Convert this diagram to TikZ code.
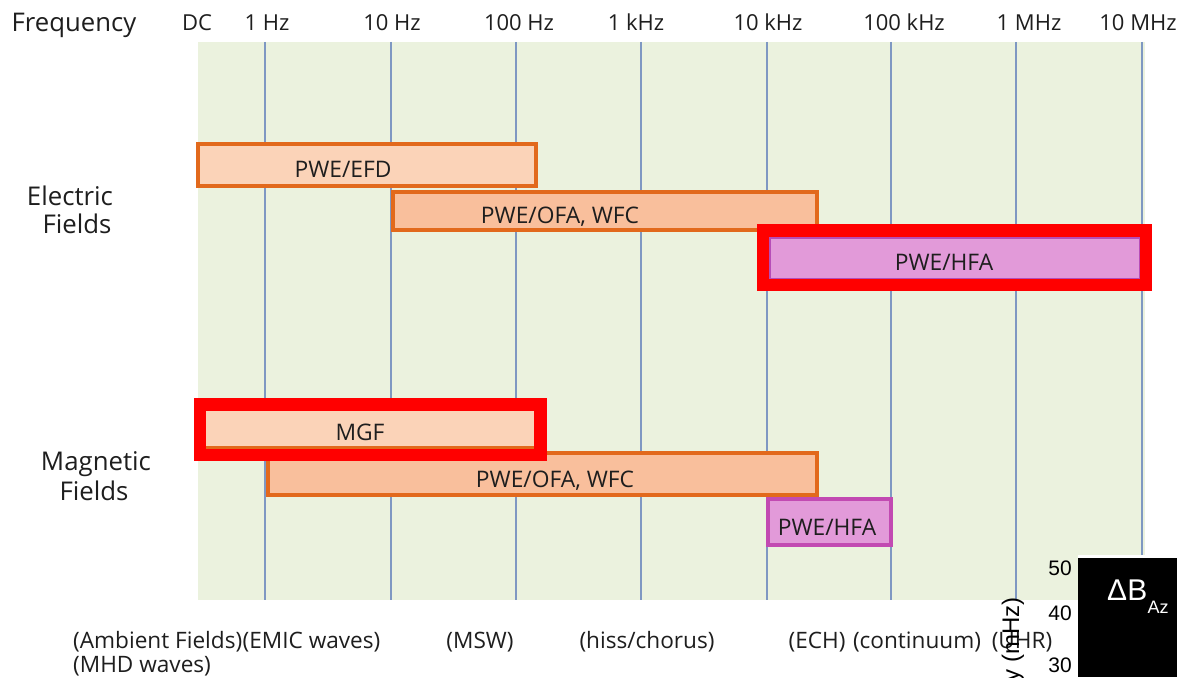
\documentclass[tikz,border=0pt]{standalone}
\usepackage{fontspec}
\setmainfont{Open Sans}
\newfontfamily\arialfont{Liberation Sans}
\definecolor{bggreen}{HTML}{EBF2DE}
\definecolor{gridc}{HTML}{7F98C2}
\definecolor{peachA}{HTML}{FBD3B8}
\definecolor{peachB}{HTML}{F9BF9C}
\definecolor{orangeB}{HTML}{E2691C}
\definecolor{magfill}{HTML}{E29AD9}
\definecolor{purpleB}{HTML}{B64DB8}
\definecolor{purpleC}{HTML}{C24AB2}
\definecolor{redc}{HTML}{FF0000}
\definecolor{txt}{HTML}{1E1E1E}
\begin{document}
\begin{tikzpicture}[x=1pt,y=-1pt,
  hdr/.style={inner sep=0pt, text=txt, anchor=base, font=\fontsize{22}{26}\selectfont},
  rowlab/.style={inner sep=0pt, text=txt, anchor=base, font=\fontsize{25.8}{30}\selectfont},
  barlab/.style={inner sep=0pt, text=txt, anchor=base, font=\fontsize{22.8}{27}\selectfont},
  botlab/.style={inner sep=0pt, text=txt, font=\fontsize{22.6}{27}\selectfont},
  gridline/.style={draw=gridc, line width=1.3pt},
  obar/.style={draw=orangeB, line width=4pt, inner sep=0pt, outer sep=0pt},
  mbar/.style={draw=purpleB, fill=magfill, line width=1.5pt, inner sep=0pt, outer sep=0pt},
  redbox/.style={draw=redc, line width=12.5pt, inner sep=0pt, outer sep=0pt},
  ovnum/.style={inner sep=0pt, text=black, anchor=base east, font=\arialfont\fontsize{21}{25}\selectfont}
]
\useasboundingbox (0,0) rectangle (1177,677);
\clip (0,0) rectangle (1177,677);
\fill[white] (0,0) rectangle (1177,677);
% background
\fill[bggreen] (198,42) rectangle (1145,600);
\foreach \x in {265,391,516,641,767,891,1016,1142}
  \draw[gridline] (\x,42) -- (\x,600);
% header
\node[hdr, font=\fontsize{25.7}{30}\selectfont] (freq) at (74,32) {Frequency};
\node[hdr] (hDC) at (197,31) {DC};
\node[hdr] (h1) at (267,31) {1 Hz};
\node[hdr] (h10) at (392,31) {10 Hz};
\node[hdr] (h100) at (519,31) {100 Hz};
\node[hdr] (h1k) at (636,31) {1 kHz};
\node[hdr] (h10k) at (768,31) {10 kHz};
\node[hdr] (h100k) at (904,31) {100 kHz};
\node[hdr] (h1M) at (1029,31) {1 MHz};
\node[hdr] (h10M) at (1138,31) {10 MHz};
% row labels
\node[rowlab] (el1) at (70,205) {Electric};
\node[rowlab] (el2) at (77,233) {Fields};
\node[rowlab] (ma1) at (96,470) {Magnetic};
\node[rowlab] (ma2) at (94,500) {Fields};
% electric field bars
\node[obar, fill=peachA, minimum width=338pt, minimum height=42pt] (efd) at (367,165) {};
\node[barlab] (efdl) at (343,177) {PWE/EFD};
\node[obar, fill=peachB, minimum width=424pt, minimum height=38pt] (ofae) at (605,211) {};
\node[barlab] (ofael) at (560,223) {PWE/OFA, WFC};
\node[mbar, minimum width=369.5pt, minimum height=40.5pt] (hfae) at (954.5,258) {};
\node[redbox, minimum width=383pt, minimum height=54.5pt] (hle) at (954.5,257.75) {};
\node[barlab] (hfael) at (944,270) {PWE/HFA};
% magnetic field bars
\node[obar, line width=3pt, fill=peachA, minimum width=334pt, minimum height=39pt] (mgf) at (369,427.5) {};
\node[obar, fill=peachB, minimum width=549pt, minimum height=42pt] (ofam) at (542.5,474) {};
\node[barlab] (ofaml) at (555,487) {PWE/OFA, WFC};
\node[redbox, minimum width=340.5pt, minimum height=50.5pt] (hlm) at (370.25,429.75) {};
\node[barlab] (mgfl) at (360,440) {MGF};
\node[mbar, draw=purpleC, line width=4pt, minimum width=123pt, minimum height=46pt] (hfam) at (829.5,522) {};
\node[barlab] (hfaml) at (827,535) {PWE/HFA};
% bottom labels
\node[botlab, anchor=base west] (b1) at (73,648) {(Ambient Fields)};
\node[botlab, anchor=base west] (b2) at (b1.base east) {(EMIC waves)};
\node[botlab, anchor=base] (b3) at (480,648) {(MSW)};
\node[botlab, anchor=base] (b4) at (647,648) {(hiss/chorus)};
\node[botlab, anchor=base] (b5) at (817,648) {(ECH)};
\node[botlab, anchor=base] (b6) at (917,648) {(continuum)};
\node[botlab, anchor=base] (b7) at (1022,648) {(UHR)};
\node[botlab, anchor=base west] (b8) at (73,672) {(MHD waves)};
% overlapping figure fragment
\node[inner sep=0pt, text=black, rotate=90, anchor=base east, font=\arialfont\fontsize{24}{28}\selectfont] (rot) at (1019,597) {y (mHz)};
\fill[white] (1078,555) rectangle (1177,677);
\fill[black] (1078,558) rectangle (1177,677);
\node[ovnum] (n50) at (1072,575) {50};
\node[ovnum] (n40) at (1072,620) {40};
\node[ovnum] (n30) at (1072,672) {30};
\node[inner sep=0pt, text=white, anchor=base west, font=\arialfont\fontsize{30}{34}\selectfont] (dB) at (1107,600) {ΔB};
\node[inner sep=0pt, text=white, anchor=base west, font=\arialfont\fontsize{18}{20}\selectfont] (az) at ([yshift=-13pt]dB.base east) {Az};
\end{tikzpicture}
\end{document}
